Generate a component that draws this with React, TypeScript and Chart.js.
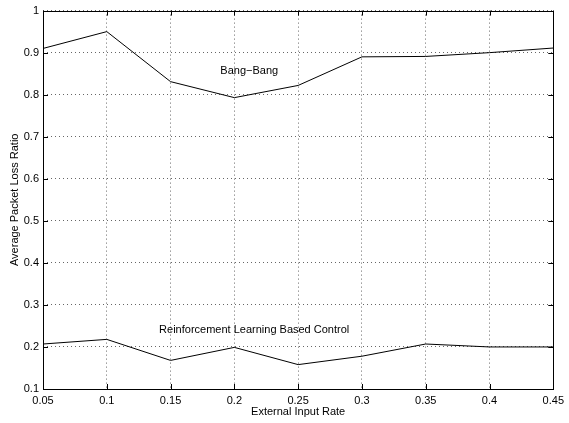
import React, { useEffect, useRef } from "react";
import { Chart, registerables } from "chart.js";

Chart.register(...registerables);

const inputRates = [0.05, 0.1, 0.15, 0.2, 0.25, 0.3, 0.35, 0.4, 0.45];
const bangBang = [0.91, 0.95, 0.831, 0.793, 0.822, 0.89, 0.891, 0.9, 0.911];
const rlControl = [0.207, 0.218, 0.168, 0.199, 0.158, 0.178, 0.207, 0.2, 0.2];
const xTicks = [0.05, 0.1, 0.15, 0.2, 0.25, 0.3, 0.35, 0.4, 0.45];
const yTicks = [0.1, 0.2, 0.3, 0.4, 0.5, 0.6, 0.7, 0.8, 0.9, 1];
const annotations = [
  { text: "Bang\u2212Bang", x: 0.189, y: 0.857 },
  { text: "Reinforcement Learning Based Control", x: 0.141, y: 0.241 },
];

const FONT = "'Liberation Sans', Arial, Helvetica, sans-serif";

const fmt = (v: number) => String(Number(Number(v).toFixed(3)));

const framePlugin = {
  id: "frame",
  afterDraw(chart: any) {
    const { ctx, chartArea: a, scales } = chart;
    const xs = scales.x;
    const ys = scales.y;
    ctx.save();
    ctx.strokeStyle = "#000";
    ctx.lineWidth = 1;
    ctx.strokeRect(Math.round(a.left) + 0.5, Math.round(a.top) + 0.5, Math.round(a.right - a.left), Math.round(a.bottom - a.top));
    const tl = 5;
    ctx.beginPath();
    for (const t of xTicks) {
      const px = Math.round(xs.getPixelForValue(t)) + 0.5;
      ctx.moveTo(px, a.bottom);
      ctx.lineTo(px, a.bottom - tl);
      ctx.moveTo(px, a.top);
      ctx.lineTo(px, a.top + tl);
    }
    for (const t of yTicks) {
      const py = Math.round(ys.getPixelForValue(t)) + 0.5;
      ctx.moveTo(a.left, py);
      ctx.lineTo(a.left + tl, py);
      ctx.moveTo(a.right, py);
      ctx.lineTo(a.right - tl, py);
    }
    ctx.stroke();
    ctx.fillStyle = "#000";
    ctx.font = `11px ${FONT}`;
    ctx.textAlign = "left";
    ctx.textBaseline = "middle";
    for (const an of annotations) {
      ctx.fillText(an.text, xs.getPixelForValue(an.x), ys.getPixelForValue(an.y));
    }
    ctx.restore();
  },
};

export default function App() {
  const ref = useRef<HTMLCanvasElement | null>(null);
  useEffect(() => {
    if (!ref.current) return;
    const chart = new Chart(ref.current, {
      type: "line",
      data: {
        datasets: [
          {
            label: "Bang-Bang",
            data: inputRates.map((x, i) => ({ x, y: bangBang[i] })),
            borderColor: "#000",
            borderWidth: 1,
            pointRadius: 0,
            tension: 0,
          },
          {
            label: "Reinforcement Learning Based Control",
            data: inputRates.map((x, i) => ({ x, y: rlControl[i] })),
            borderColor: "#000",
            borderWidth: 1,
            pointRadius: 0,
            tension: 0,
          },
        ],
      },
      options: {
        responsive: false,
        animation: false,
        devicePixelRatio: 1,
        layout: { padding: { top: 6, right: 12, left: 0, bottom: 0 } },
        plugins: { legend: { display: false }, tooltip: { enabled: false } },
        scales: {
          x: {
            type: "linear",
            min: 0.05,
            max: 0.45,
            afterBuildTicks: (s: any) => {
              s.ticks = xTicks.map((v) => ({ value: v }));
            },
            afterFit: (s: any) => {
              s.height = 34;
            },
            ticks: {
              callback: (v: any) => fmt(v),
              color: "#000",
              font: { family: FONT, size: 11 },
              padding: 5,
              maxRotation: 0,
              autoSkip: false,
            },
            grid: { color: "#666", drawTicks: false, lineWidth: 1 },
            border: { display: false, dash: [1, 3] },
            title: {
              display: true,
              text: "External Input Rate",
              color: "#000",
              font: { family: FONT, size: 11 },
              padding: { top: 0, bottom: 4 },
            },
          },
          y: {
            type: "linear",
            min: 0.1,
            max: 1,
            afterBuildTicks: (s: any) => {
              s.ticks = yTicks.map((v) => ({ value: v }));
            },
            afterFit: (s: any) => {
              s.width = 43;
            },
            ticks: {
              callback: (v: any) => fmt(v),
              color: "#000",
              font: { family: FONT, size: 11 },
              padding: 4,
              autoSkip: false,
            },
            grid: { color: "#666", drawTicks: false, lineWidth: 1 },
            border: { display: false, dash: [1, 3] },
            title: {
              display: true,
              text: "Average Packet Loss Ratio",
              color: "#000",
              font: { family: FONT, size: 11 },
              padding: { top: 8, bottom: 0 },
            },
          },
        },
      },
      plugins: [framePlugin],
    } as any);
    return () => chart.destroy();
  }, []);
  return (
    <div style={{ position: "fixed", left: 0, top: 0, width: 569, height: 423, background: "#fff" }}>
      <canvas ref={ref} width={569} height={423} style={{ display: "block" }} />
    </div>
  );
}
